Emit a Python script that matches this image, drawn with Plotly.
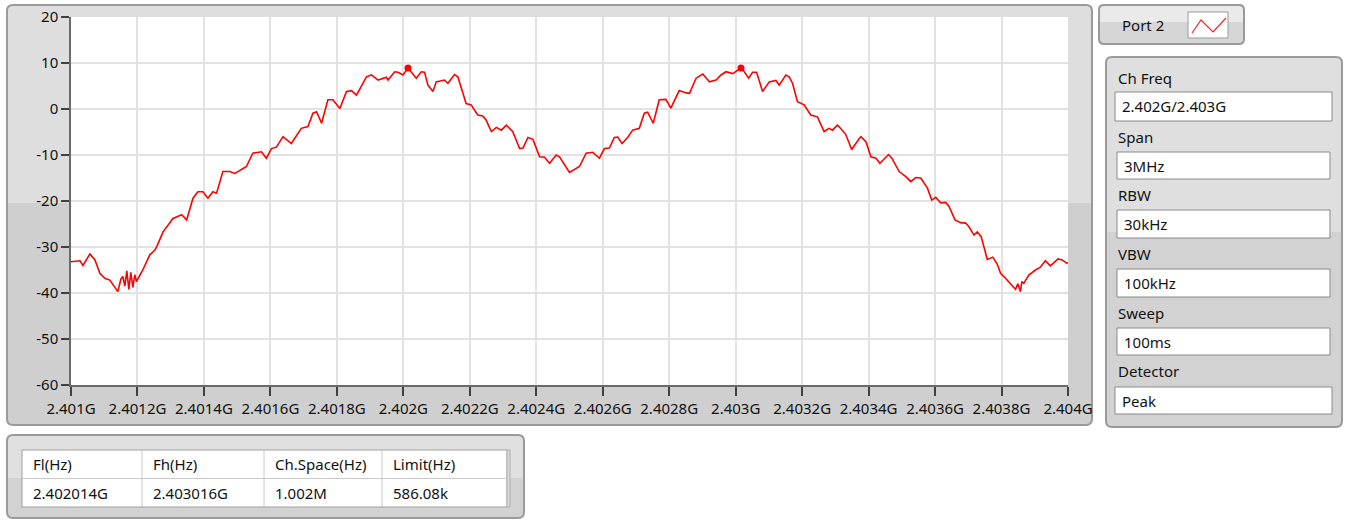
import plotly.graph_objects as go

W, H = 1346, 520

# ---------------- data ----------------
freq_mhz = [
    2401.000, 2401.027, 2401.036, 2401.057, 2401.072, 2401.087, 2401.102, 2401.117,
    2401.141, 2401.150, 2401.156, 2401.162, 2401.168, 2401.174, 2401.180, 2401.186,
    2401.192, 2401.197, 2401.216, 2401.237, 2401.252, 2401.258, 2401.277, 2401.307,
    2401.333, 2401.348, 2401.367, 2401.382, 2401.397, 2401.412, 2401.427, 2401.438,
    2401.457, 2401.478, 2401.493, 2401.528, 2401.547, 2401.573, 2401.588, 2401.603,
    2401.618, 2401.638, 2401.663, 2401.693, 2401.713, 2401.728, 2401.739, 2401.754,
    2401.773, 2401.788, 2401.809, 2401.829, 2401.844, 2401.859, 2401.889, 2401.904,
    2401.924, 2401.949, 2401.954, 2401.974, 2401.984, 2401.999, 2402.014, 2402.039,
    2402.054, 2402.064, 2402.074, 2402.089, 2402.099, 2402.124, 2402.134, 2402.154,
    2402.164, 2402.174, 2402.189, 2402.204, 2402.224, 2402.239, 2402.249, 2402.265,
    2402.280, 2402.295, 2402.310, 2402.329, 2402.350, 2402.360, 2402.375, 2402.390,
    2402.410, 2402.425, 2402.440, 2402.460, 2402.470, 2402.500, 2402.520, 2402.530,
    2402.550, 2402.570, 2402.590, 2402.605, 2402.620, 2402.635, 2402.645, 2402.658,
    2402.675, 2402.690, 2402.710, 2402.725, 2402.735, 2402.752, 2402.770, 2402.790,
    2402.805, 2402.830, 2402.851, 2402.861, 2402.881, 2402.901, 2402.921, 2402.941,
    2402.956, 2402.971, 2402.991, 2403.016, 2403.026, 2403.039, 2403.051, 2403.063,
    2403.081, 2403.101, 2403.121, 2403.131, 2403.151, 2403.161, 2403.171, 2403.186,
    2403.206, 2403.226, 2403.246, 2403.266, 2403.281, 2403.291, 2403.306, 2403.311,
    2403.331, 2403.349, 2403.372, 2403.377, 2403.392, 2403.407, 2403.422, 2403.434,
    2403.460, 2403.470, 2403.492, 2403.512, 2403.527, 2403.542, 2403.557, 2403.577,
    2403.590, 2403.602, 2403.617, 2403.632, 2403.642, 2403.660, 2403.677, 2403.692,
    2403.702, 2403.717, 2403.727, 2403.739, 2403.757, 2403.774, 2403.787, 2403.797,
    2403.812, 2403.827, 2403.842, 2403.849, 2403.857, 2403.861, 2403.867, 2403.882,
    2403.902, 2403.917, 2403.932, 2403.947, 2403.970, 2403.982, 2403.996, 2404.000,
]
level_db = [
    -33.2, -33.0, -34.0, -31.5, -32.8, -35.7, -36.8, -37.2,
    -39.7, -37.0, -36.4, -38.5, -35.2, -39.2, -35.5, -38.8,
    -36.0, -37.5, -35.0, -31.7, -30.7, -29.9, -26.7, -23.8,
    -23.0, -24.1, -19.4, -18.0, -18.0, -19.4, -18.0, -18.3,
    -13.6, -13.6, -14.0, -12.5, -9.6, -9.3, -10.7, -8.6,
    -8.3, -6.0, -7.5, -4.2, -3.8, -0.9, -0.6, -3.1,
    2.0, 2.0, 0.1, 3.8, 4.0, 3.0, 7.0, 7.4,
    6.3, 6.9, 6.3, 8.1, 8.0, 7.4, 8.9, 6.7,
    8.1, 8.0, 5.2, 3.8, 5.9, 6.3, 5.6, 7.5,
    7.0, 4.8, 1.2, 0.9, -1.3, -1.5, -2.4, -4.9,
    -4.0, -4.6, -3.5, -4.9, -8.6, -8.5, -6.2, -6.6,
    -10.4, -10.5, -11.8, -10.0, -10.4, -13.8, -12.9, -12.5,
    -9.6, -9.4, -10.7, -8.6, -8.5, -6.2, -6.1, -7.5,
    -6.2, -4.6, -4.2, -0.9, -0.7, -3.1, 2.0, 2.1,
    0.2, 4.0, 3.5, 3.4, 6.7, 7.6, 5.9, 6.3,
    7.4, 8.1, 7.7, 8.9, 8.1, 6.7, 8.0, 8.0,
    3.8, 5.9, 6.2, 5.2, 7.4, 7.0, 5.6, 1.6,
    0.9, -1.3, -1.7, -4.9, -4.2, -4.6, -3.5, -3.8,
    -5.5, -8.8, -6.4, -6.0, -7.1, -10.4, -10.7, -11.8,
    -9.9, -10.7, -13.6, -14.7, -15.8, -14.9, -15.0, -17.2,
    -19.8, -19.2, -20.4, -20.3, -21.2, -24.1, -24.7, -24.8,
    -25.6, -27.4, -26.7, -27.8, -32.7, -32.2, -33.7, -35.7,
    -36.8, -37.9, -39.2, -38.0, -39.7, -37.5, -37.9, -36.1,
    -35.0, -34.4, -33.0, -34.1, -32.6, -32.8, -33.5, -33.4,
]
marker_freq_mhz = [2402.014, 2403.016]
marker_level_db = [8.9, 8.9]

x_tick_vals = [2401.0, 2401.2, 2401.4, 2401.6, 2401.8, 2402.0, 2402.2, 2402.4,
               2402.6, 2402.8, 2403.0, 2403.2, 2403.4, 2403.6, 2403.8, 2404.0]
x_tick_text = ["2.401G", "2.4012G", "2.4014G", "2.4016G", "2.4018G", "2.402G",
               "2.4022G", "2.4024G", "2.4026G", "2.4028G", "2.403G", "2.4032G",
               "2.4034G", "2.4036G", "2.4038G", "2.404G"]
y_tick_vals = [-60, -50, -40, -30, -20, -10, 0, 10, 20]
y_tick_text = ["-60", "-50", "-40", "-30", "-20", "-10", "0", "10", "20"]

legend_name = "Port 2"
settings_labels = ["Ch Freq", "Span", "RBW", "VBW", "Sweep", "Detector"]
settings_values = ["2.402G/2.403G", "3MHz", "30kHz", "100kHz", "100ms", "Peak"]
table_headers = ["Fl(Hz)", "Fh(Hz)", "Ch.Space(Hz)", "Limit(Hz)"]
table_values = ["2.402014G", "2.403016G", "1.002M", "586.08k"]

# ---------------- helpers (pixel -> paper) ----------------
FONT = "Noto Sans"
TXT = "#111111"


def X(px):
    return px / W


def Y(py):
    return 1 - py / H


def pt(px, py):
    return f"{X(px):.5f},{Y(py):.5f}"


def rrect_path(x0, y0, x1, y1, r, top_only=False):
    if top_only:
        return (f"M {pt(x0, y1)} L {pt(x0, y0 + r)} Q {pt(x0, y0)} {pt(x0 + r, y0)} "
                f"L {pt(x1 - r, y0)} Q {pt(x1, y0)} {pt(x1, y0 + r)} L {pt(x1, y1)} Z")
    return (f"M {pt(x0 + r, y0)} L {pt(x1 - r, y0)} Q {pt(x1, y0)} {pt(x1, y0 + r)} "
            f"L {pt(x1, y1 - r)} Q {pt(x1, y1)} {pt(x1 - r, y1)} "
            f"L {pt(x0 + r, y1)} Q {pt(x0, y1)} {pt(x0, y1 - r)} "
            f"L {pt(x0, y0 + r)} Q {pt(x0, y0)} {pt(x0 + r, y0)} Z")


shapes = []


def panel(x0, y0, x1, y1, split, light="#dedede", dark="#cfcfcf", r=6):
    shapes.append(dict(type="path", path=rrect_path(x0, y0, x1, y1, r), xref="paper", yref="paper",
                       fillcolor=dark, line=dict(width=0), layer="below"))
    shapes.append(dict(type="path", path=rrect_path(x0, y0, x1, split, r, top_only=True),
                       xref="paper", yref="paper", fillcolor=light, line=dict(width=0), layer="below"))
    shapes.append(dict(type="path", path=rrect_path(x0, y0, x1, y1, r), xref="paper", yref="paper",
                       fillcolor="rgba(0,0,0,0)", line=dict(color="#9a9a9a", width=2), layer="below"))


def box(x0, y0, x1, y1, fill="white", line="#8a8a8a", width=1):
    shapes.append(dict(type="rect", xref="paper", yref="paper", x0=X(x0), x1=X(x1), y0=Y(y1), y1=Y(y0),
                       fillcolor=fill, line=dict(color=line, width=width), layer="below"))


def hline(x0, x1, y, color="#c8c8c8"):
    shapes.append(dict(type="line", xref="paper", yref="paper", x0=X(x0), x1=X(x1), y0=Y(y), y1=Y(y),
                       line=dict(color=color, width=1), layer="below"))


def vline(x, y0, y1, color="#c8c8c8"):
    shapes.append(dict(type="line", xref="paper", yref="paper", x0=X(x), x1=X(x), y0=Y(y0), y1=Y(y1),
                       line=dict(color=color, width=1), layer="below"))


annotations = []


def text(s, px, py, size=15):
    annotations.append(dict(text=s, x=X(px), y=Y(py), xref="paper", yref="paper", xanchor="left",
                            yanchor="middle", showarrow=False, font=dict(family=FONT, size=size, color=TXT)))


PLOT_X0, PLOT_X1, PLOT_Y0, PLOT_Y1 = 71, 1068, 17, 385

# main graph panel
panel(7, 5, 1092, 425, 203)
box(PLOT_X0, PLOT_Y0, PLOT_X1, PLOT_Y1, fill="white", line="white", width=0)

# legend panel
panel(1099, 5, 1244, 44, 22, light="#eaeaea", dark="#d6d6d6", r=5)
text(legend_name, 1120, 25)
box(1188, 12, 1228, 38, line="#9a9a9a")
shapes.append(dict(type="path", xref="paper", yref="paper",
                   path=f"M {pt(1192, 33)} L {pt(1201, 20)} L {pt(1213, 32)} L {pt(1226, 18)}",
                   line=dict(color="#ff2020", width=1.2), layer="above"))

# settings panel
panel(1106, 57, 1342, 427, 232, light="#dfdfdf", dark="#d2d2d2")
box_rows = [(1115, 92, 1332, 121), (1117, 152, 1330, 179), (1117, 210, 1330, 238),
            (1117, 269, 1330, 297), (1117, 328, 1330, 355), (1115, 387, 1332, 414)]
label_y = [78, 137, 195, 254, 313, 371]
for lab, val, (bx0, by0, bx1, by1), ly in zip(settings_labels, settings_values, box_rows, label_y):
    text(lab, 1116, ly)
    box(bx0, by0, bx1, by1)
    text(val, bx0 + 5, (by0 + by1) / 2)

# table panel
panel(7, 435, 524, 518, 478, light="#e0e0e0", dark="#d2d2d2")
box(22, 450, 507, 507, line="#a0a0a0")
box(507, 450, 510, 507, fill="#d8d8d8", line="#b0b0b0")
hline(22, 507, 478.5)
col_x = [22, 142, 264, 382]
for cx in col_x[1:]:
    vline(cx, 450, 507)
for cx, hdr, val in zip(col_x, table_headers, table_values):
    text(hdr, cx + 9, 464)
    text(val, cx + 9, 493)

# ---------------- figure ----------------
fig = go.Figure()
fig.add_trace(go.Scatter(x=freq_mhz, y=level_db, mode="lines",
                         line=dict(color="#ff0000", width=1.6), showlegend=False, hoverinfo="skip"))
fig.add_trace(go.Scatter(x=marker_freq_mhz, y=marker_level_db, mode="markers",
                         marker=dict(color="#ff0000", size=7), showlegend=False, hoverinfo="skip"))

axis_font = dict(family=FONT, size=15, color=TXT)
fig.update_layout(
    width=W, height=H, autosize=False,
    margin=dict(l=0, r=0, t=0, b=0, pad=0),
    paper_bgcolor="white", plot_bgcolor="white",
    shapes=shapes, annotations=annotations,
    xaxis=dict(domain=[X(PLOT_X0), X(PLOT_X1)], range=[2401.0, 2404.0], tickvals=x_tick_vals,
               ticktext=x_tick_text, ticks="outside", ticklen=9, tickwidth=1.5, tickcolor="#404040",
               showgrid=True, gridcolor="#e2e2e2", gridwidth=1.5, showline=True, linecolor="#6a6a6a",
               linewidth=1.5, zeroline=False, tickfont=axis_font, fixedrange=True, automargin=False),
    yaxis=dict(domain=[Y(PLOT_Y1), Y(PLOT_Y0)], range=[-60, 20], tickvals=y_tick_vals,
               ticktext=y_tick_text, ticks="outside",
               ticklen=8, tickwidth=1.5, tickcolor="#404040", showgrid=True, gridcolor="#e2e2e2",
               gridwidth=1.5, showline=True, linecolor="#6a6a6a", linewidth=1.5, zeroline=False,
               tickfont=axis_font, fixedrange=True, automargin=False),
)

fig.write_html(
    "out.html",
    config={"responsive": False, "displayModeBar": False},
    post_script="document.body.style.margin='0';document.body.style.overflow='hidden';"
                "document.documentElement.style.overflow='hidden';",
)
